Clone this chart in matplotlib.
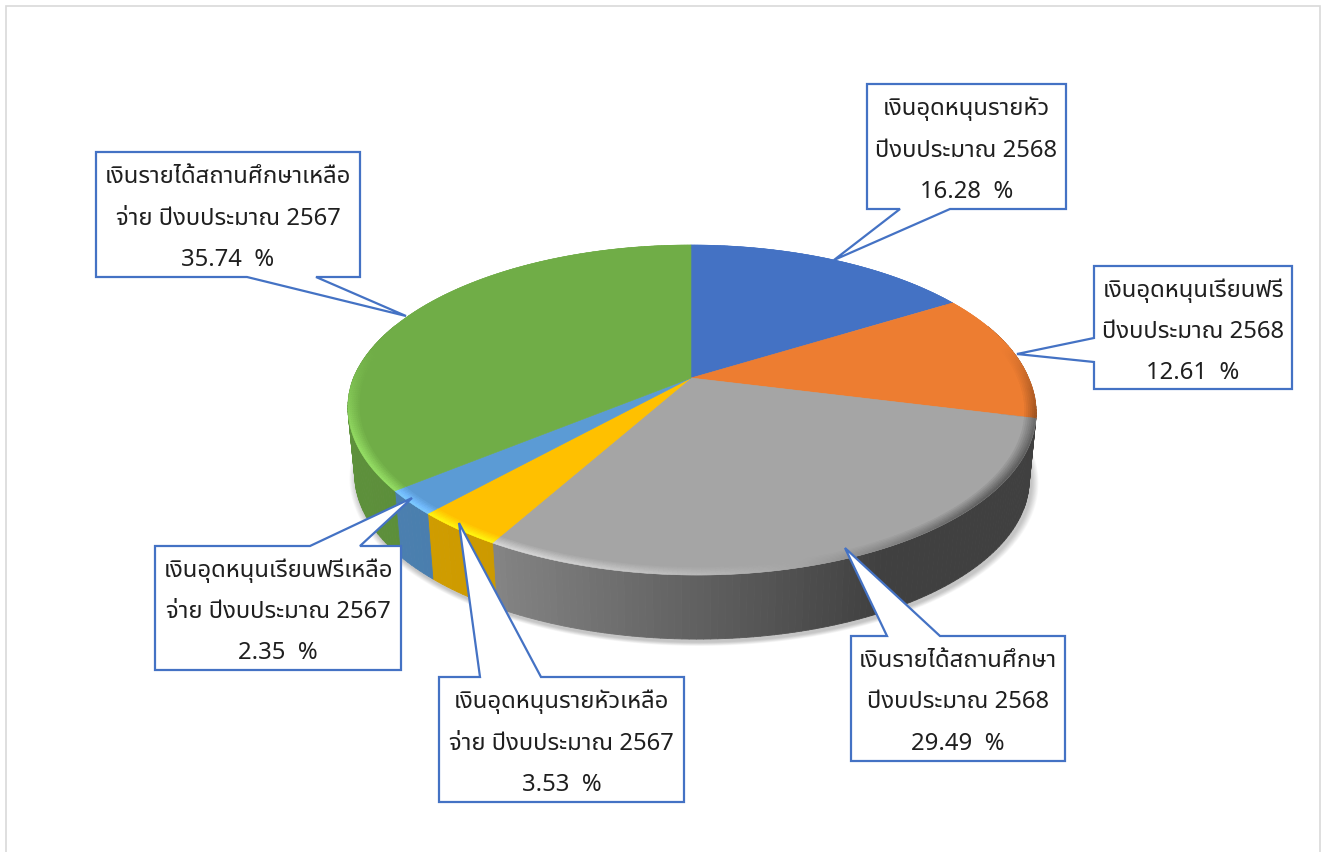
import numpy as np
import matplotlib
matplotlib.use("Agg")
import matplotlib.pyplot as plt
from matplotlib.patches import Polygon, Rectangle
from matplotlib.collections import PolyCollection
from matplotlib.colors import to_rgb
import logging
logging.getLogger("matplotlib.font_manager").setLevel(logging.ERROR)

# ---- data ----
label_lines = [
    ["เงินอุดหนุนรายหัว", "ปีงบประมาณ 2568"],
    ["เงินอุดหนุนเรียนฟรี", "ปีงบประมาณ 2568"],
    ["เงินรายได้สถานศึกษา", "ปีงบประมาณ 2568"],
    ["เงินอุดหนุนรายหัวเหลือ", "จ่าย ปีงบประมาณ 2567"],
    ["เงินอุดหนุนเรียนฟรีเหลือ", "จ่าย ปีงบประมาณ 2567"],
    ["เงินรายได้สถานศึกษาเหลือ", "จ่าย ปีงบประมาณ 2567"],
]
values = [16.28, 12.61, 29.49, 3.53, 2.35, 35.74]
colors = ["#4472C4", "#ED7D31", "#A5A5A5", "#FFC000", "#5B9BD5", "#70AD47"]

# ---- callout layout (pixels): box x0,y0,x1,y1 / pointer base a,b on side / tip ----
boxes = [(867, 84, 1066, 209), (1094, 266, 1292, 389), (851, 636, 1065, 761),
         (439, 677, 684, 802), (155, 546, 401, 670), (96, 152, 360, 277)]
sides = ["bottom", "left", "top", "top", "top", "bottom"]
bases = [(900, 950), (338, 362), (887, 940), (480, 541), (310, 360), (247, 316)]
tips = [(834, 260), (1017, 354), (845, 548), (459, 523), (412, 498), (406, 316)]

THAI = ["Noto Sans Thai", "Sarabun", "IBM Plex Sans Thai", "FreeSerif", "DejaVu Sans"]
BLUE = "#4472C4"

# ---- perspective disc -> pixel mapping ----
CX, CY = 691.0, 378.0
A, B, K = 158.8, 337.5, 0.194
DEPTH, SCALE = 68.0, 0.98
SKEW = 0.032


def proj(theta, r=1.0, lower=False):
    X, Y = r * np.sin(theta), r * np.cos(theta)
    d = 1 + K * Y
    px, py = B * X / d, A * Y / d
    px = px + SKEW * np.maximum(-py, 0)
    if lower:
        return CX + SCALE * px, CY + DEPTH - SCALE * py
    return CX + px, CY - py


def shade(rgb, s):
    rgb = np.asarray(rgb)
    if s > 0:
        return np.clip(rgb * (1 + 0.40 * s) + 0.13 * s, 0, 1)
    return np.clip(rgb * (1 + s), 0, 1)


fig = plt.figure(figsize=(13.26, 8.53), dpi=100)
ax = fig.add_axes([0, 0, 1, 1])
ax.set_xlim(0, 1326)
ax.set_ylim(852, -1)
ax.axis("off")

ax.add_patch(Rectangle((6, 6), 1314, 870, fc="white", ec="#D9D9D9", lw=1.2, zorder=0))

# soft shadow
tt = np.linspace(0, 2 * np.pi, 361)
lx, ly = proj(tt, lower=True)
mx, my = lx.mean(), ly.mean()
for i in range(10):
    f = 1.0 + 0.0022 * (i + 1)
    ax.add_patch(Polygon(np.c_[mx + (lx - mx) * f + 2, my + (ly - my) * f + 3],
                         fc="black", ec="none", alpha=0.022, zorder=1))

edges = np.deg2rad(np.r_[0, np.cumsum(values)] * 3.6)

# side wall
for v0, v1, c in zip(edges[:-1], edges[1:], colors):
    rgb = np.array(to_rgb(c))
    n = max(2, int(np.degrees(v1 - v0)))
    th = np.linspace(v0, v1, n + 1)
    quads, fcs = [], []
    for a, b in zip(th[:-1], th[1:]):
        mid = 0.5 * (a + b)
        if np.cos(mid) > 0.35:
            continue
        ux0, uy0 = proj(a)
        ux1, uy1 = proj(b)
        dx0, dy0 = proj(a, lower=True)
        dx1, dy1 = proj(b, lower=True)
        quads.append([(ux0, uy0), (ux1, uy1), (dx1, dy1), (dx0, dy0)])
        f = np.interp(np.sin(mid), [-1, -0.5, 0.45, 1], [0.84, 0.8, 0.39, 0.39])
        fcs.append(rgb * f)
    if quads:
        ax.add_collection(PolyCollection(quads, facecolors=fcs, edgecolors=fcs,
                                         linewidths=0.6, zorder=2))

# top surface
for v0, v1, c in zip(edges[:-1], edges[1:], colors):
    th = np.linspace(v0, v1, 200)
    x, y = proj(th)
    pts = np.r_[[[CX, CY]], np.c_[x, y]]
    ax.add_patch(Polygon(pts, fc=c, ec=c, lw=0.4, zorder=3))

# bevel along the rim
radii = np.linspace(0.968, 1.0, 7)
for v0, v1, c in zip(edges[:-1], edges[1:], colors):
    rgb = np.array(to_rgb(c))
    n = max(2, int(np.degrees(v1 - v0) * 1.5))
    th = np.linspace(v0, v1, n + 1)
    quads, fcs = [], []
    for a, b in zip(th[:-1], th[1:]):
        mid = 0.5 * (a + b)
        X, Y = np.sin(mid), np.cos(mid)
        s = (-0.97 * X - 0.25 * Y) * np.clip(0.2 - Y, 0, 1)
        for j, (r0, r1) in enumerate(zip(radii[:-1], radii[1:])):
            prof = (j + 1) / (len(radii) - 1)
            if s > 0:
                amt = 0.8 * min(s, 0.6) * prof
            else:
                amt = 0.85 * s * prof
            ax0, ay0 = proj(a, r0)
            bx0, by0 = proj(b, r0)
            bx1, by1 = proj(b, r1)
            ax1, ay1 = proj(a, r1)
            quads.append([(ax0, ay0), (bx0, by0), (bx1, by1), (ax1, ay1)])
            fcs.append(shade(rgb, amt))
    ax.add_collection(PolyCollection(quads, facecolors=fcs, edgecolors=fcs,
                                     linewidths=0.3, zorder=4))

# callouts
for lines, val, box, side, base, tip in zip(label_lines, values, boxes, sides, bases, tips):
    x0, y0, x1, y1 = box
    if side == "bottom":
        pts = [(x0, y0), (x1, y0), (x1, y1), (base[1], y1), tip, (base[0], y1), (x0, y1)]
    elif side == "top":
        pts = [(x0, y0), (base[0], y0), tip, (base[1], y0), (x1, y0), (x1, y1), (x0, y1)]
    else:
        pts = [(x0, y0), (x1, y0), (x1, y1), (x0, y1), (x0, base[1]), tip, (x0, base[0])]
    ax.add_patch(Polygon(pts, closed=True, fc="white", ec=BLUE, lw=1.6,
                         joinstyle="miter", zorder=6))
    xm = 0.5 * (x0 + x1)
    step = (y1 - y0) / 3.0
    for i, t in enumerate(lines + [f"{val:.2f}  %"]):
        ax.text(xm, y0 + step * (i + 0.5) + 3, t, ha="center", va="center",
                family=THAI, fontsize=17.2, color="#1F1F1F", zorder=7)

fig.savefig("out.png", dpi=100)
